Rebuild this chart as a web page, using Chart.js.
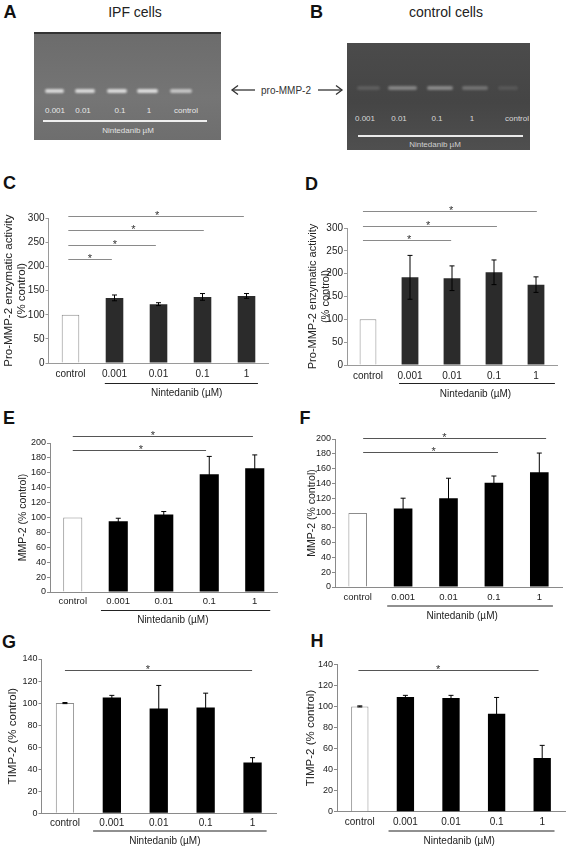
<!DOCTYPE html>
<html>
<head>
<meta charset="utf-8">
<script src="https://cdn.jsdelivr.net/npm/chart.js"></script>
<style>
  body { margin: 0; background: #fff; }
  #page { position: relative; width: 567px; height: 848px; overflow: hidden; font-family: 'Liberation Sans', Arial, sans-serif; color: #222; }
  canvas { position: absolute; left: 0; top: 0; }
  .t { position: absolute; white-space: nowrap; transform: translate(-50%, -50%); }
  .lt { font-weight: bold; font-size: 18px; color: #111; }
  .gel { position: absolute; }
  .band { position: absolute; height: 4px; border-radius: 3px; filter: blur(1.2px); }
  .gl { position: absolute; white-space: nowrap; transform: translate(-50%, -50%); font-size: 8px; }
</style>
</head>
<body>
<div id="page">
  <!-- panel letters and headings -->
  <div class="t lt" style="left:10px;top:11.5px">A</div>
  <div class="t lt" style="left:316.5px;top:11.5px">B</div>
  <div class="t lt" style="left:9.5px;top:182.5px">C</div>
  <div class="t lt" style="left:311.5px;top:183.5px">D</div>
  <div class="t lt" style="left:9px;top:417.5px">E</div>
  <div class="t lt" style="left:305px;top:417.5px">F</div>
  <div class="t lt" style="left:9px;top:641.5px">G</div>
  <div class="t lt" style="left:317px;top:640.5px">H</div>
  <div class="t" style="left:135px;top:11.5px;font-size:14px">IPF cells</div>
  <div class="t" style="left:446px;top:11.5px;font-size:14px">control cells</div>

  <!-- gel A (IPF cells) -->
  <div class="gel" style="left:34px;top:32px;width:187px;height:106px;background:linear-gradient(#6c6c6c,#757575 60%,#6e6e6e);border-top:2px solid #333;"></div>
  <div class="band" style="left:45px;top:89px;width:19px;background:#d8d8d8"></div>
  <div class="band" style="left:75px;top:89px;width:20px;background:#d8d8d8"></div>
  <div class="band" style="left:107px;top:89px;width:20px;background:#dadada"></div>
  <div class="band" style="left:137px;top:89px;width:21px;background:#dcdcdc"></div>
  <div class="band" style="left:170px;top:89px;width:22px;background:#c4c4c4"></div>
  <div class="gl" style="left:55px;top:110px;color:#e8e8e8">0.001</div>
  <div class="gl" style="left:83px;top:110px;color:#e8e8e8">0.01</div>
  <div class="gl" style="left:120px;top:110px;color:#e8e8e8">0.1</div>
  <div class="gl" style="left:149px;top:110px;color:#e8e8e8">1</div>
  <div class="gl" style="left:186px;top:110px;color:#e8e8e8">control</div>
  <div style="position:absolute;left:43px;top:120px;width:164px;height:2px;background:#efefef"></div>
  <div class="gl" style="left:128px;top:130px;color:#e2e2e2">Nintedanib µM</div>

  <!-- arrows -->
  <svg style="position:absolute;left:0;top:0" width="567" height="160">
    <g stroke="#333" stroke-width="1.3" fill="none">
      <line x1="232" y1="90" x2="255" y2="90"/>
      <polyline points="238,85.5 232,90 238,94.5"/>
      <line x1="318" y1="90" x2="342" y2="90"/>
      <polyline points="336,85.5 342,90 336,94.5"/>
    </g>
  </svg>
  <div class="t" style="left:286px;top:90px;font-size:10px;color:#333">pro-MMP-2</div>

  <!-- gel B (control cells) -->
  <div class="gel" style="left:347px;top:43px;width:183px;height:107px;background:linear-gradient(#4b4b4b,#454545 55%,#4f4f4f);"></div>
  <div class="band" style="left:357px;top:86px;width:23px;background:#5e5e5e"></div>
  <div class="band" style="left:388px;top:86px;width:29px;background:#848484"></div>
  <div class="band" style="left:427px;top:86px;width:26px;background:#888"></div>
  <div class="band" style="left:462px;top:86px;width:26px;background:#727272"></div>
  <div class="band" style="left:498px;top:86px;width:20px;background:#575757"></div>
  <div class="gl" style="left:365px;top:118px;color:#d8d8d8">0.001</div>
  <div class="gl" style="left:399px;top:118px;color:#d8d8d8">0.01</div>
  <div class="gl" style="left:437px;top:118px;color:#d8d8d8">0.1</div>
  <div class="gl" style="left:472px;top:118px;color:#d8d8d8">1</div>
  <div class="gl" style="left:517px;top:118px;color:#d8d8d8">control</div>
  <div style="position:absolute;left:358px;top:135px;width:165px;height:2px;background:#eaeaea"></div>
  <div class="gl" style="left:435px;top:144px;color:#d0d0d0">Nintedanib µM</div>

  <canvas id="chartC" width="567" height="848"></canvas>
  <canvas id="chartD" width="567" height="848"></canvas>
  <canvas id="chartE" width="567" height="848"></canvas>
  <canvas id="chartF" width="567" height="848"></canvas>
  <canvas id="chartG" width="567" height="848"></canvas>
  <canvas id="chartH" width="567" height="848"></canvas>
</div>

<script>
const FONT = "'Liberation Sans', Arial, sans-serif";
Chart.defaults.font.family = FONT;
Chart.defaults.color = '#222';

// categories and tick labels
const categories = ['control', '0.001', '0.01', '0.1', '1'];
const xTitle = 'Nintedanib (µM)';
const proMmpTicks = [0, 50, 100, 150, 200, 250, 300];
const mmpTicks = [0, 20, 40, 60, 80, 100, 120, 140, 160, 180, 200];
const timpTicks = [0, 20, 40, 60, 80, 100, 120, 140];

// values (% control) and error bars
const proMmpIpf = [100, 135, 122, 137, 139];
const proMmpIpfErr = [0, 6, 3, 7, 5];
const proMmpCtrl = [100, 192, 190, 203, 176];
const proMmpCtrlErr = [0, 48, 27, 27, 17];
const mmpIpf = [100, 95, 104, 158, 166];
const mmpIpfErr = [0, 4, 4, 24, 18];
const mmpCtrl = [100, 106, 120, 141, 155];
const mmpCtrlErr = [0, 14, 27, 9, 26];
const timpIpf = [100, 105, 95, 96, 46];
const timpIpfErr = [0.5, 2, 21, 13, 4.5];
const timpCtrl = [100, 109, 108, 93, 51];
const timpCtrlErr = [0.5, 1.5, 2.5, 15.5, 12];

// significance brackets: category span, height in % control, star spot
const sigC = [
  { from: -0.05, to: 0.94, y: 215, star: 0.44 },
  { from: -0.05, to: 1.94, y: 245, star: 1.01 },
  { from: -0.05, to: 3.03, y: 276, star: 1.43 },
  { from: -0.05, to: 3.94, y: 305, star: 1.97 },
];
const sigD = [
  { from: -0.12, to: 1.98, y: 274, star: 0.98 },
  { from: -0.12, to: 3.07, y: 305, star: 1.43 },
  { from: -0.12, to: 4.02, y: 337, star: 1.98 },
];
const sigE = [
  { from: 0, to: 2.93, y: 190, star: 1.5 },
  { from: 0, to: 3.96, y: 210, star: 1.76 },
];
const sigF = [
  { from: 0.12, to: 3.09, y: 183, star: 1.67 },
  { from: 0.12, to: 4.15, y: 202, star: 1.91 },
];
const sigG = [{ from: 0, to: 3.99, y: 130, star: 1.77 }];
const sigH = [{ from: -0.03, to: 3.92, y: 135, star: 1.72 }];

const X_AXIS_H = 34;

function panel(id, s) {
  const lh = s.titleSize * 1.2;
  const padLeft = s.titleX - lh / 2;

  const marks = {
    id: 'marks',
    afterDatasetsDraw(chart) {
      const ctx = chart.ctx;
      const y = chart.scales.y;
      const bars = chart.getDatasetMeta(0).data;
      ctx.save();
      ctx.strokeStyle = '#000';
      ctx.lineWidth = 1;
      s.errors.forEach((e, i) => {
        if (!e) return;
        const cx = bars[i].x;
        const t = y.getPixelForValue(s.values[i] + e);
        const b = y.getPixelForValue(s.values[i] - e);
        ctx.beginPath();
        ctx.moveTo(cx, t); ctx.lineTo(cx, b);
        ctx.moveTo(cx - 2.5, t); ctx.lineTo(cx + 2.5, t);
        ctx.moveTo(cx - 2.5, b); ctx.lineTo(cx + 2.5, b);
        ctx.stroke();
      });
      ctx.restore();
    },
    afterDraw(chart) {
      const ctx = chart.ctx;
      const x = chart.scales.x, y = chart.scales.y;
      const axisY = chart.chartArea.bottom;
      ctx.save();
      // significance lines and stars
      ctx.lineWidth = 1;
      ctx.strokeStyle = s.sigColor;
      ctx.fillStyle = '#333';
      ctx.font = '11px ' + FONT;
      ctx.textAlign = 'center';
      ctx.textBaseline = 'alphabetic';
      s.sig.forEach(g => {
        const yy = Math.round(y.getPixelForValue(g.y)) + 0.5;
        ctx.beginPath();
        ctx.moveTo(x.getPixelForValue(g.from), yy);
        ctx.lineTo(x.getPixelForValue(g.to), yy);
        ctx.stroke();
        ctx.fillText('*', x.getPixelForValue(g.star), yy + 2.5);
      });
      // underline of the drug doses and x title
      ctx.strokeStyle = '#222';
      ctx.lineWidth = 1.2;
      const uy = axisY + s.underOff;
      ctx.beginPath();
      ctx.moveTo(x.getPixelForValue(s.under[0]), uy);
      ctx.lineTo(x.getPixelForValue(s.under[1]), uy);
      ctx.stroke();
      ctx.fillStyle = '#222';
      ctx.font = '10px ' + FONT;
      ctx.textBaseline = 'middle';
      ctx.fillText(xTitle, x.getPixelForValue(s.xTitleAt), axisY + s.titleOff);
      ctx.restore();
    }
  };

  return new Chart(document.getElementById(id), {
    type: 'bar',
    data: {
      labels: categories,
      datasets: [{
        data: s.values,
        backgroundColor: s.values.map((v, i) => (i === 0 ? '#fff' : s.barColor)),
        borderColor: s.values.map((v, i) => (i === 0 ? '#8c8c8c' : s.barColor)),
        borderWidth: s.values.map((v, i) => (i === 0 ? 1 : 0)),
        barPercentage: s.barPct,
        categoryPercentage: 1,
      }],
    },
    options: {
      responsive: false,
      animation: false,
      events: [],
      layout: {
        padding: {
          left: padLeft,
          top: s.box.top,
          right: 567 - s.box.right,
          bottom: 848 - s.box.bottom - X_AXIS_H,
        },
      },
      plugins: {
        legend: { display: false },
        tooltip: { enabled: false },
      },
      scales: {
        x: {
          grid: { display: false, drawTicks: false },
          border: { color: s.axisColor },
          ticks: {
            color: '#222',
            font: { size: s.catSize },
            padding: s.labelOff - s.catSize * 0.6,
            maxRotation: 0,
            autoSkip: false,
          },
          afterFit: sc => { sc.height = X_AXIS_H; },
        },
        y: {
          min: 0,
          max: s.yMax,
          grid: { drawOnChartArea: false, tickLength: 3, color: s.axisColor },
          border: { color: s.axisColor },
          ticks: { color: '#222', font: { size: s.tickSize }, padding: 1 },
          afterBuildTicks: sc => { sc.ticks = s.yTicks.map(v => ({ value: v })); },
          afterFit: sc => { sc.width = s.box.left - padLeft; },
          title: {
            display: true,
            text: s.yTitle,
            color: '#222',
            font: { size: s.titleSize, lineHeight: 1.2 },
            padding: 0,
          },
        },
      },
    },
    plugins: [marks],
  });
}

const proTitle = ['Pro-MMP-2 enzymatic activity', '(% control)'];

panel('chartC', {
  values: proMmpIpf, errors: proMmpIpfErr, sig: sigC,
  yMax: 300, yTicks: proMmpTicks, yTitle: proTitle, titleSize: 11.5, titleX: 8.5,
  box: { left: 48.5, right: 268.5, top: 218.3, bottom: 363 },
  tickSize: 10, catSize: 10, barPct: 0.4, barColor: '#2b2b2b',
  axisColor: '#9a9a9a', sigColor: '#8a8a8a',
  labelOff: 11.5, underOff: 20.5, titleOff: 30, under: [0.78, 4.26], xTitleAt: 2.64,
});

panel('chartD', {
  values: proMmpCtrl, errors: proMmpCtrlErr, sig: sigD,
  yMax: 300, yTicks: proMmpTicks, yTitle: proTitle, titleSize: 11, titleX: 312.5,
  box: { left: 347, right: 557, top: 228, bottom: 365 },
  tickSize: 10, catSize: 10, barPct: 0.4, barColor: '#2b2b2b',
  axisColor: '#9a9a9a', sigColor: '#8a8a8a',
  labelOff: 11, underOff: 18.5, titleOff: 29, under: [0.74, 4.45], xTitleAt: 2.56,
});

panel('chartE', {
  values: mmpIpf, errors: mmpIpfErr, sig: sigE,
  yMax: 200, yTicks: mmpTicks, yTitle: 'MMP-2 (% control)', titleSize: 10.5, titleX: 23.3,
  box: { left: 50, right: 277.5, top: 443, bottom: 592 },
  tickSize: 9, catSize: 9.5, barPct: 0.42, barColor: '#000',
  axisColor: '#8a8a8a', sigColor: '#555',
  labelOff: 9.5, underOff: 18.5, titleOff: 28.5, under: [0.62, 4.34], xTitleAt: 2.2,
});

panel('chartF', {
  values: mmpCtrl, errors: mmpCtrlErr, sig: sigF,
  yMax: 200, yTicks: mmpTicks, yTitle: 'MMP-2 (% control)', titleSize: 10.5, titleX: 311.7,
  box: { left: 335, right: 562, top: 439, bottom: 587 },
  tickSize: 9, catSize: 9.5, barPct: 0.41, barColor: '#000',
  axisColor: '#8a8a8a', sigColor: '#555',
  labelOff: 10, underOff: 19, titleOff: 29.5, under: [0.65, 4.3], xTitleAt: 2.3,
});

panel('chartG', {
  values: timpIpf, errors: timpIpfErr, sig: sigG,
  yMax: 140, yTicks: timpTicks, yTitle: 'TIMP-2 (% control)', titleSize: 11.5, titleX: 12.5,
  box: { left: 41.5, right: 276, top: 659, bottom: 813.3 },
  tickSize: 9, catSize: 10, barPct: 0.39, barColor: '#000',
  axisColor: '#8a8a8a', sigColor: '#555',
  labelOff: 9.5, underOff: 17.7, titleOff: 27.7, under: [0.6, 4.3], xTitleAt: 2.13,
});

panel('chartH', {
  values: timpCtrl, errors: timpCtrlErr, sig: sigH,
  yMax: 140, yTicks: timpTicks, yTitle: 'TIMP-2 (% control)', titleSize: 11.5, titleX: 311,
  box: { left: 337, right: 565, top: 664.3, bottom: 811.7 },
  tickSize: 9, catSize: 10, barPct: 0.38, barColor: '#000',
  axisColor: '#8a8a8a', sigColor: '#555',
  labelOff: 11, underOff: 19.3, titleOff: 29.3, under: [0.63, 4.27], xTitleAt: 2.18,
});
</script>
</body>
</html>
